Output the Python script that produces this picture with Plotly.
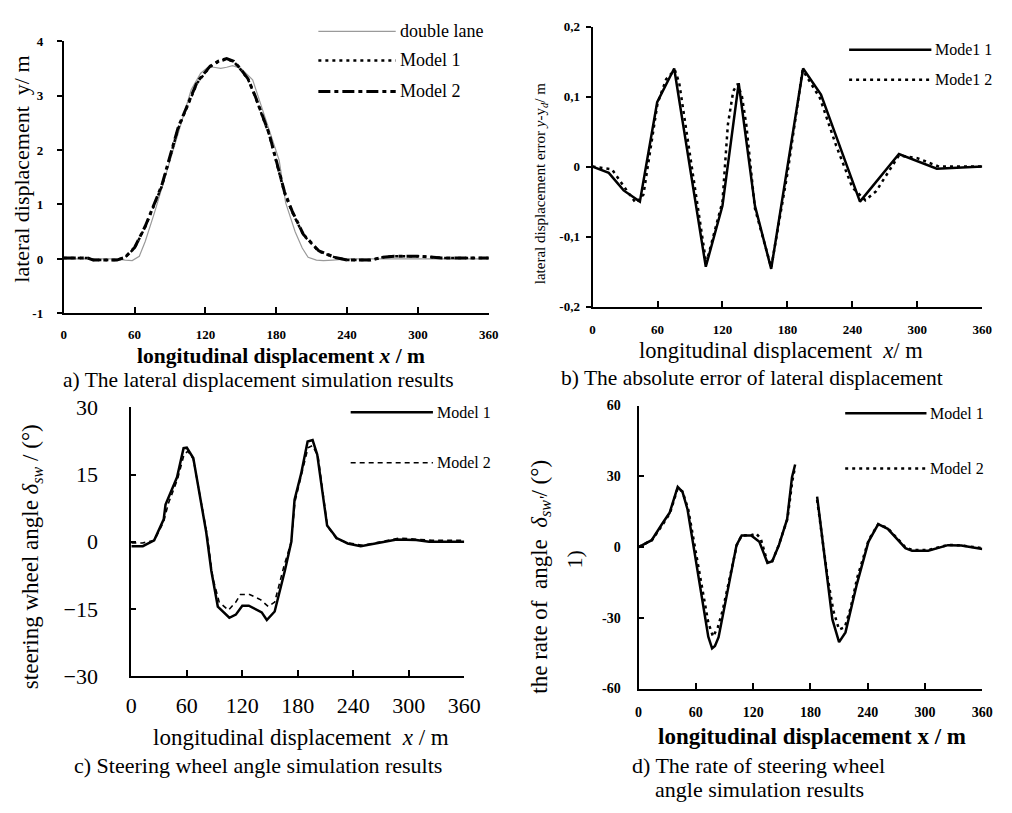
import plotly.graph_objects as go

W, H = 1012, 813

# ---------------- data ----------------
# a) lateral displacement
a_lane_x = [0, 20, 45, 52, 58, 64, 69, 77, 88.5, 99.5, 108, 116, 122, 127, 133, 138, 143, 150, 160, 169, 182.5, 188, 196, 202, 207, 214, 220, 228, 240, 360]
a_lane_y = [0, 0, 0, -0.02, -0.03, 0.05, 0.32, 0.86, 1.69, 2.46, 3.11, 3.41, 3.52, 3.52, 3.50, 3.52, 3.55, 3.50, 3.29, 2.70, 1.81, 1.03, 0.50, 0.20, 0.03, -0.02, -0.03, -0.02, 0, 0]
a_m1_x = [0, 20, 25, 45, 52, 60, 69, 83, 97, 113, 124, 131, 138, 144, 149, 156, 162, 174, 187, 193.5, 203, 216, 229.5, 240, 260, 270, 280, 300, 320, 360]
a_m1_y = [0.02, 0.02, -0.02, -0.02, 0.03, 0.2, 0.59, 1.33, 2.40, 3.23, 3.53, 3.62, 3.67, 3.62, 3.50, 3.30, 2.99, 2.28, 1.21, 0.86, 0.44, 0.14, 0.03, -0.02, -0.02, 0.03, 0.05, 0.05, 0.02, 0.02]
a_m2_x = [0, 20, 25, 45, 52, 60, 69, 83, 97, 113, 124, 131, 138, 144, 149, 156, 162, 174, 187, 193.5, 203, 216, 229.5, 240, 260, 270, 280, 300, 320, 360]
a_m2_y = [0.02, 0.02, -0.02, -0.02, 0.03, 0.21, 0.60, 1.35, 2.42, 3.25, 3.54, 3.63, 3.68, 3.63, 3.51, 3.31, 3.00, 2.30, 1.23, 0.88, 0.45, 0.15, 0.03, -0.02, -0.02, 0.03, 0.05, 0.05, 0.02, 0.02]

# b) absolute error of lateral displacement
b_m1_x = [0, 15, 28.7, 43.7, 59.7, 75.4, 104.6, 120, 135, 150, 165, 194.5, 211, 247, 283, 318, 360]
b_m1_y = [0, -0.009, -0.034, -0.05, 0.092, 0.14, -0.143, -0.056, 0.119, -0.056, -0.146, 0.14, 0.103, -0.05, 0.018, -0.003, 0]
b_m2_x = [0, 18, 32, 40, 47, 60, 68, 76, 80, 105, 120, 125, 130, 134, 138, 142, 150, 165, 180, 194, 210, 225, 240, 252, 262, 283, 300, 320, 360]
b_m2_y = [0, -0.004, -0.035, -0.052, -0.04, 0.09, 0.125, 0.138, 0.12, -0.138, -0.05, 0.06, 0.108, 0.118, 0.10, 0.06, -0.06, -0.144, -0.01, 0.138, 0.098, 0.03, -0.03, -0.048, -0.035, 0.016, 0.012, 0.0, 0]

# c) steering wheel angle
c_m1_x = [0, 12.4, 24.7, 35, 37, 49.4, 56.5, 60, 67, 81, 86.5, 93.5, 106, 113, 120, 127, 141, 146.5, 155, 166, 173, 176.5, 183.5, 190.6, 196, 201, 211.7, 222, 234, 248, 287, 308, 322, 360]
c_m1_y = [-1, -1, 0.3, 5.0, 8.3, 14.4, 20.9, 21, 18.7, 2.1, -6.5, -14.5, -17, -16.3, -14.3, -14.3, -15.8, -17.5, -15.6, -6.5, 0, 9.4, 15.1, 22.4, 22.7, 19.5, 3.6, 0.8, -0.4, -1.0, 0.5, 0.4, 0, 0]
c_m2_x = [0, 12, 25, 35, 40, 50, 57, 61, 67, 82, 88, 95, 105, 113, 118, 128, 140, 148, 155, 165, 173, 177, 184, 191, 196, 202, 212, 222, 235, 250, 290, 310, 325, 360]
c_m2_y = [-0.3, -0.3, 0.3, 4.5, 8.5, 14.0, 19.5, 20.2, 18.5, 1.5, -8, -13.5, -15.3, -13.5, -11.8, -11.8, -13, -14.5, -13.5, -5.5, 0, 9, 15, 21, 21.5, 19, 3.5, 0.6, -0.3, -0.8, 0.8, 0.6, 0.3, 0.3]

# d) rate of steering wheel angle (gap between the two segments)
d_m1_x = [0, 13.7, 25.6, 32.5, 41, 46, 51.3, 61.5, 68.4, 73, 77, 80, 83.8, 95.7, 102.6, 108, 118, 126.5, 135, 140, 147, 155.6, 160.7, 164,
          None,
          187, 191, 198, 203, 210, 216.7, 228.7, 240.7, 251, 261, 279.5, 286.4, 303.4, 324, 338, 360]
d_m1_y = [0, 2.9, 10.4, 14.5, 25.5, 23.4, 15.9, -8.8, -26.6, -38, -43, -42, -38.2, -14.3, 0.8, 4.9, 4.9, 2.2, -6.7, -6, 0.8, 11.8, 29.6, 35,
          None,
          21.4, 7.7, -15.6, -30.7, -40.3, -36.2, -15.6, 2.2, 9.7, 7.7, -0.5, -1.6, -1.6, 0.8, 0.6, -0.8]
d_m2_x = [0, 14, 26, 33, 41, 46, 52, 62, 68, 73, 78, 83, 88, 96, 103, 108, 118, 123, 128, 135, 140, 147, 156, 161, 164,
          None,
          187, 191, 198, 204, 210, 216, 222, 229, 241, 251, 261, 280, 287, 303, 324, 338, 360]
d_m2_y = [0, 2.9, 10, 14.5, 25, 23.5, 16, -7, -21, -32, -38, -34, -27, -12, 1, 4.9, 5, 5.8, 3.5, -6.5, -6, 1, 12, 28, 34,
          None,
          20, 8, -13, -27, -35, -34, -26, -13, 3, 9.7, 8, -0.3, -1.3, -1.3, 0.9, 0.7, -0.5]

x_ticks = [0, 60, 120, 180, 240, 300, 360]
a_yticks = [-1, 0, 1, 2, 3, 4]
a_yticktext = ["-1", "0", "1", "2", "3", "4"]
b_yticks = [-0.2, -0.1, 0, 0.1, 0.2]
b_yticktext = ["-0,2", "-0,1", "0", "0,1", "0,2"]
c_yticks = [-30, -15, 0, 15, 30]
c_yticktext = ["\u221230", "\u221215", "0", "15", "30"]
d_yticks = [-60, -30, 0, 30, 60]
d_yticktext = ["-60", "-30", "0", "30", "60"]

# ---------------- helpers ----------------
def px(x):
    return x / W

def py(y):
    return 1 - y / H

SERIF = "Liberation Serif"
BLACK = "#000000"

fig = go.Figure()

def add(x, y, xa, ya, color=BLACK, width=2.5, dash="solid", name=""):
    fig.add_trace(go.Scatter(x=x, y=y, xaxis=xa, yaxis=ya, mode="lines", name=name,
                             line=dict(color=color, width=width, dash=dash),
                             connectgaps=False, showlegend=False, hoverinfo="skip"))

DASHDOT = "12px,4px,4px,4px"
DOT = "3px,4px"
add(a_lane_x, a_lane_y, "x", "y", color="#9a9a9a", width=1.2, name="double lane")
add(a_m1_x, a_m1_y, "x", "y", width=2.5, dash=DOT, name="Model 1")
add(a_m2_x, a_m2_y, "x", "y", width=3, dash=DASHDOT, name="Model 2")
add(b_m1_x, b_m1_y, "x2", "y2", width=2.5, name="Model 1")
add(b_m2_x, b_m2_y, "x2", "y2", width=2.5, dash=DOT, name="Model 2")
add(c_m1_x, c_m1_y, "x3", "y3", width=2.5, name="Model 1")
add(c_m2_x, c_m2_y, "x3", "y3", width=1.6, dash="5px,4px", name="Model 2")
add(d_m1_x, d_m1_y, "x4", "y4", width=2.5, name="Model 1")
add(d_m2_x, d_m2_y, "x4", "y4", width=2.5, dash=DOT, name="Model 2")

def xaxis(dom, anchor, fontsize, bold, standoff, ticks="inside"):
    return dict(domain=[px(dom[0]), px(dom[1])], anchor=anchor, range=[0, 360],
                tickvals=x_ticks, ticktext=[str(v) for v in x_ticks],
                showline=True, linecolor=BLACK, linewidth=2, ticks=ticks, ticklen=6,
                tickwidth=2, tickcolor=BLACK, showgrid=False, zeroline=False,
                ticklabelstandoff=standoff,
                tickfont=dict(family=SERIF, size=fontsize, color=BLACK,
                              weight="bold" if bold else "normal"))

def yaxis(dom, anchor, rng, tv, tt, fontsize, bold, standoff, ticks="outside"):
    return dict(domain=[py(dom[1]), py(dom[0])], anchor=anchor, range=rng,
                tickvals=tv, ticktext=tt,
                showline=True, linecolor=BLACK, linewidth=2, ticks=ticks, ticklen=5,
                tickwidth=2, tickcolor=BLACK, showgrid=False, zeroline=False,
                ticklabelstandoff=standoff,
                tickfont=dict(family=SERIF, size=fontsize, color=BLACK,
                              weight="bold" if bold else "normal"))

fig.update_layout(
    width=W, height=H, margin=dict(l=0, r=0, t=0, b=0),
    paper_bgcolor="white", plot_bgcolor="white",
    xaxis=xaxis((60, 494), "y", 13, True, 8),
    yaxis=yaxis((30, 311), "x", [-1, 4], a_yticks, a_yticktext, 13, True, 11),
    xaxis2=xaxis((600, 998), "y2", 13, True, 10),
    yaxis2=yaxis((15, 304), "x2", [-0.2, 0.2], b_yticks, b_yticktext, 13, True, 3),
    xaxis3=xaxis((129, 469), "y3", 22, False, 9),
    yaxis3=yaxis((408, 685), "x3", [-30, 30], c_yticks, c_yticktext, 22, False, 27, ticks="inside"),
    xaxis4=xaxis((647, 998), "y4", 14, True, 10),
    yaxis4=yaxis((406, 698), "x4", [-60, 60], d_yticks, d_yticktext, 14, True, 13, ticks="inside"),
)

ann = []
def text(x, y, t, size, bold=False, angle=0, xanchor="center"):
    if bold:
        t = "<b>" + t + "</b>"
    ann.append(dict(x=px(x), y=py(y), xref="paper", yref="paper", text=t, showarrow=False,
                    textangle=angle, xanchor=xanchor, yanchor="middle",
                    font=dict(family=SERIF, size=size, color=BLACK)))

# axis titles
text(282, 355, "longitudinal displacement <i>x</i> / m", 21.5, bold=True)
text(16, 162, "lateral displacement  y/ m", 22, angle=-90)
text(792, 349, "longitudinal displacement  <i>x</i>/ m", 22.5)
text(547, 177, "lateral displacement error <i>y</i>-y<sub><i>d</i></sub>/ m", 15, angle=-90)
text(302, 749, "longitudinal displacement  <i>x</i> / m", 23)
text(27, 562, "steering wheel angle <i>\u03b4</i><sub><i>sw</i></sub> / (\u00b0)", 23, angle=-90)
text(824, 748, "longitudinal displacement x / m", 23, bold=True)
text(547, 583, "the rate of  angle  <i>\u03b4</i><sub><i>sw'</i></sub>/ (\u00b0)", 23, angle=-90)
text(582, 565, "1)", 22, angle=-90)

# captions
text(259, 380, "a) The lateral displacement simulation results", 21.5)
text(763, 378, "b) The absolute error of lateral displacement", 21.5)
text(258, 777, "c) Steering wheel angle simulation results", 22)
text(638, 777, "d) The rate of steering wheel", 22, xanchor="left")
text(662, 802, "angle simulation results", 22, xanchor="left")

# legends (sample line + label)
shapes = []
def legend_item(x0, x1, y, label, size, color=BLACK, width=2.5, dash="solid"):
    shapes.append(dict(type="line", xref="paper", yref="paper", x0=px(x0), x1=px(x1),
                       y0=py(y), y1=py(y), line=dict(color=color, width=width, dash=dash)))
    text(x1 + 2, y, label, size, xanchor="left")

legend_item(320, 399, 20, "double lane", 18, color="#9a9a9a", width=1.2)
legend_item(320, 399, 50, "Model 1", 18, dash=DOT)
legend_item(320, 399, 82, "Model 2", 18, width=3, dash=DASHDOT)
legend_item(862, 946, 39, "Mode1 1", 16)
legend_item(862, 946, 70, "Mode1 2", 16, dash=DOT)
legend_item(353, 437, 413, "Model 1", 16)
legend_item(353, 437, 465, "Model 2", 16, width=1.6, dash="5px,4px")
legend_item(858, 941, 414, "Model 1", 16)
legend_item(858, 941, 471, "Model 2", 16, dash=DOT)

fig.update_layout(annotations=ann, shapes=shapes)
fig.write_html("out.html", config={"displayModeBar": False},
               post_script="document.body.style.margin='0';document.body.style.overflow='hidden';")
